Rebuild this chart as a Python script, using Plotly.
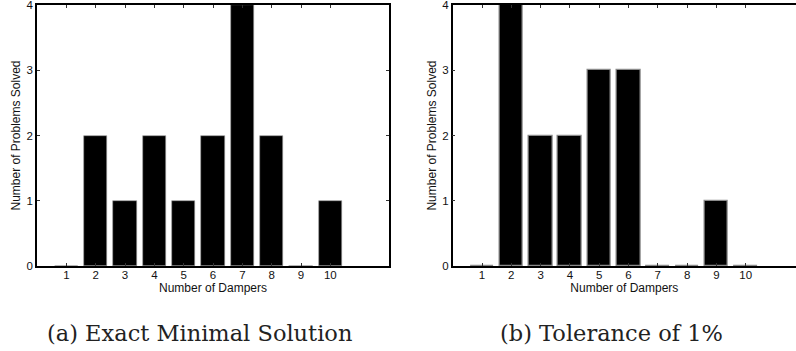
import plotly.graph_objects as go

dampers = [1, 2, 3, 4, 5, 6, 7, 8, 9, 10]
exact_solved = [0, 2, 1, 2, 1, 2, 4, 2, 0, 1]
tol_solved = [0, 4, 2, 2, 3, 3, 0, 0, 1, 0]
y_ticks = [0, 1, 2, 3, 4]
captions = ["(a) Exact Minimal Solution", "(b) Tolerance of 1%"]

W, H = 796, 351
fig = go.Figure()
fig.add_trace(go.Bar(x=dampers, y=exact_solved, width=0.8, xaxis="x", yaxis="y",
                     marker=dict(color="black", line=dict(color="#9a9a9a", width=0.6)),
                     showlegend=False))
fig.add_trace(go.Bar(x=dampers, y=tol_solved, width=0.8, xaxis="x2", yaxis="y2",
                     marker=dict(color="black", line=dict(color="#8a8a8a", width=1.2)),
                     showlegend=False))

ydom = [1 - 266 / H, 1 - 5 / H]
tickfont = dict(family="Liberation Sans, Arial", size=11.5, color="#111")
titlefont = dict(family="Liberation Sans, Arial", size=12, color="#111")

common_x = dict(tickmode="array", tickvals=dampers, ticktext=[str(d) for d in dampers],
                ticks="inside", ticklen=3, tickcolor="#333", showline=True, linecolor="black",
                linewidth=1.5, mirror="ticks", showgrid=False, zeroline=False,
                tickfont=tickfont, automargin=False, fixedrange=True,
                ticklabelstandoff=-3, ticklabeloverflow="allow")
common_y = dict(tickmode="array", tickvals=y_ticks, range=[0, 4], ticks="inside", ticklen=3,
                tickcolor="#333", showline=True, linecolor="black", linewidth=1.5,
                showgrid=False, zeroline=False, tickfont=tickfont, automargin=False,
                ticklabeloverflow="allow")

fig.update_layout(
    width=W, height=H, margin=dict(l=0, r=0, t=0, b=0),
    paper_bgcolor="white", plot_bgcolor="white", bargap=0,
    xaxis=dict(common_x, domain=[37 / W, 389 / W], range=[0, 12], anchor="y",
               title=dict(text="Number of Dampers", font=titlefont, standoff=0)),
    yaxis=dict(common_y, domain=ydom, anchor="x", mirror="ticks",
               title=dict(text="Number of Problems Solved", font=titlefont, standoff=3)),
    xaxis2=dict(common_x, domain=[452.7 / W, 1.0], range=[0, (W - 452.7) / 29.3], anchor="y2",
                title=dict(text="Number of Dampers", font=titlefont, standoff=0)),
    yaxis2=dict(common_y, domain=ydom, anchor="x2", mirror=False,
                title=dict(text="Number of Problems Solved", font=titlefont, standoff=3)),
    annotations=[
        dict(text=captions[0], x=200 / W, y=1 - 333 / H, xref="paper", yref="paper",
             showarrow=False, xanchor="center", yanchor="middle",
             font=dict(family="DejaVu Serif, serif", size=22.5, color="#222")),
        dict(text=captions[1], x=611 / W, y=1 - 333 / H, xref="paper", yref="paper",
             showarrow=False, xanchor="center", yanchor="middle",
             font=dict(family="DejaVu Serif, serif", size=22.5, color="#222")),
    ],
)
fig.write_html("out.html", config={"displayModeBar": False},
               post_script="document.body.style.margin='0';")
